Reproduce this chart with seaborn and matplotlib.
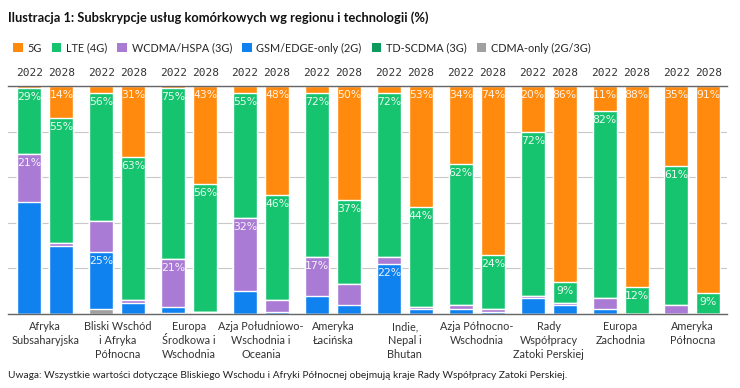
import numpy as np
import pandas as pd
import matplotlib
matplotlib.use("Agg")
import matplotlib.pyplot as plt
import matplotlib.transforms as mtransforms
from matplotlib.patches import Patch
import seaborn as sns

regions = ["Afryka\nSubsaharyjska", "Bliski Wschód\ni Afryka\nPółnocna", "Europa\nŚrodkowa i\nWschodnia",
           "Azja Południowo-\nWschodnia i\nOceania", "Ameryka\nŁacińska", "Indie,\nNepal i\nBhutan",
           "Azja Północno-\nWschodnia", "Rady\nWspółpracy\nZatoki Perskiej", "Europa\nZachodnia",
           "Ameryka\nPółnocna"]
years = ["2022", "2028"]

# values per technology (%), bottom to top of stack: CDMA, GSM, WCDMA, TD-SCDMA, LTE, 5G
cdma_2022 = [0, 2, 0.5, 0, 0, 0, 0, 0, 0, 0]
cdma_2028 = [0, 0, 0.5, 0, 0, 0, 0, 0, 0, 0]
gsm_2022 = [49, 25, 2.5, 10, 8, 22, 2, 7, 2, 0]
gsm_2028 = [30, 5, 0.5, 1, 4, 2, 1, 4, 0, 0]
wcdma_2022 = [21, 14, 21, 32, 17, 3, 2, 1, 5, 4]
wcdma_2028 = [1, 1, 0, 5, 9, 1, 1, 1, 0, 0]
tdscdma_2022 = [0, 0, 0, 0, 0, 0, 0, 0, 0, 0]
tdscdma_2028 = [0, 0, 0, 0, 0, 0, 0, 0, 0, 0]
lte_2022 = [29, 56, 75, 55, 72, 72, 62, 72, 82, 61]
lte_2028 = [55, 63, 56, 46, 37, 44, 24, 9, 12, 9]
g5_2022 = [1, 3, 1, 3, 3, 3, 34, 20, 11, 35]
g5_2028 = [14, 31, 43, 48, 50, 53, 74, 86, 88, 91]

# which segments carry a value label
labeled_2022 = [["LTE", "WCDMA"], ["LTE", "GSM"], ["LTE", "WCDMA"], ["LTE", "WCDMA"], ["LTE", "WCDMA"],
                ["LTE", "GSM"], ["5G", "LTE"], ["5G", "LTE"], ["5G", "LTE"], ["5G", "LTE"]]
labeled_2028 = [["5G", "LTE"]] * 10

tech_names = ["CDMA", "GSM", "WCDMA", "TDSCDMA", "LTE", "5G"]
legend_names = ["5G", "LTE (4G)", "WCDMA/HSPA (3G)", "GSM/EDGE-only (2G)", "TD-SCDMA (3G)", "CDMA-only (2G/3G)"]
legend_keys = ["5G", "LTE", "WCDMA", "GSM", "TDSCDMA", "CDMA"]
colors = {"5G": "#FF8A0D", "LTE": "#16C46F", "WCDMA": "#A97BD4", "GSM": "#0F82F0",
          "TDSCDMA": "#0E9A5C", "CDMA": "#A0A0A0"}

data = {
    "2022": {"CDMA": cdma_2022, "GSM": gsm_2022, "WCDMA": wcdma_2022, "TDSCDMA": tdscdma_2022,
             "LTE": lte_2022, "5G": g5_2022},
    "2028": {"CDMA": cdma_2028, "GSM": gsm_2028, "WCDMA": wcdma_2028, "TDSCDMA": tdscdma_2028,
             "LTE": lte_2028, "5G": g5_2028},
}

rows = []
for y in years:
    cum = np.zeros(len(regions))
    for t in tech_names:
        vals = np.array(data[y][t], dtype=float)
        bottom = cum.copy()
        cum = cum + vals
        for i, r in enumerate(regions):
            rows.append({"region": r, "year": y, "tech": t, "value": vals[i],
                         "bottom": bottom[i], "top": cum[i]})
df = pd.DataFrame(rows)

sns.set_theme(style="white")
plt.rcParams["font.family"] = ["Lato", "DejaVu Sans"]

W, H = 740, 388
fig = plt.figure(figsize=(W / 100, H / 100), dpi=100)
ax_l, ax_r, ax_t, ax_b = 8, 727, 86, 314
ax = fig.add_axes([ax_l / W, 1 - ax_b / H, (ax_r - ax_l) / W, (ax_b - ax_t) / H])

# stacked bars via overlay of cumulative totals (top layer first)
for t in reversed(tech_names):
    sub = df[df["tech"] == t]
    sns.barplot(data=sub, x="region", y="top", hue="year", order=regions, hue_order=years,
                palette=[colors[t], colors[t]], width=0.89, gap=0.25, dodge=True,
                legend=False, ax=ax, saturation=1, errorbar=None, zorder=2)

ax.set_xlim(-0.52, len(regions) - 0.52)
ax.set_ylim(0, 100)
ax.set_yticks([0, 20, 40, 60, 80, 100])
ax.set_yticklabels([])
ax.yaxis.grid(True, color="#c8c8c8", linewidth=0.8, zorder=0)
ax.set_axisbelow(True)
ax.tick_params(axis="both", length=0)
ax.tick_params(axis="x", pad=5)
ax.set_xlabel("")
ax.set_ylabel("")
for s in ["left", "right"]:
    ax.spines[s].set_visible(False)
for s in ["top", "bottom"]:
    ax.spines[s].set_color("#666666")
    ax.spines[s].set_linewidth(1.0)
ax.set_xticks(range(len(regions)))
ax.set_xticklabels(regions, fontsize=7.8, color="#333333", linespacing=1.35)

offset = 0.2225
# value labels
px_per_pct = (ax_b - ax_t) / 100
for yi, (y, labs) in enumerate(zip(years, [labeled_2022, labeled_2028])):
    xo = -offset if yi == 0 else offset
    for i in range(len(regions)):
        for t in labs[i]:
            row = df[(df.region == regions[i]) & (df.year == y) & (df.tech == t)].iloc[0]
            ax.text(i + xo, row["top"] - 9 / px_per_pct, f"{int(round(row['value']))}%",
                    ha="center", va="center", fontsize=7.8, color="white", alpha=0.9,
                    family=["DejaVu Sans"], zorder=5)

# year labels above bars
trans = mtransforms.blended_transform_factory(ax.transData, ax.transAxes)
for i in range(len(regions)):
    for yi, y in enumerate(years):
        xo = -offset if yi == 0 else offset
        ax.text(i + xo, 1 + 13 / (ax_b - ax_t), y, transform=trans, ha="center", va="center",
                fontsize=8, color="#333333", family=["DejaVu Sans Mono"])

# legend
handles = [Patch(facecolor=colors[k], edgecolor="none") for k in legend_keys]
fig.legend(handles, legend_names, loc="center left", bbox_to_anchor=(3 / W, 1 - 48 / H),
           ncol=6, frameon=False, handlelength=0.9, handleheight=0.9,
           handletextpad=0.45, columnspacing=0.9, prop={"family": ["Lato"], "size": 7.8})

fig.text(8 / W, 1 - 18 / H, "Ilustracja 1: Subskrypcje usług komórkowych wg regionu i technologii (%)",
         ha="left", va="center", fontsize=9.3, fontweight="bold", color="#111111")
fig.text(8 / W, 1 - 375 / H,
         "Uwaga: Wszystkie wartości dotyczące Bliskiego Wschodu i Afryki Północnej obejmują kraje Rady Współpracy Zatoki Perskiej.",
         ha="left", va="center", fontsize=7.3, color="#222222")

fig.savefig("out.png", dpi=100)
